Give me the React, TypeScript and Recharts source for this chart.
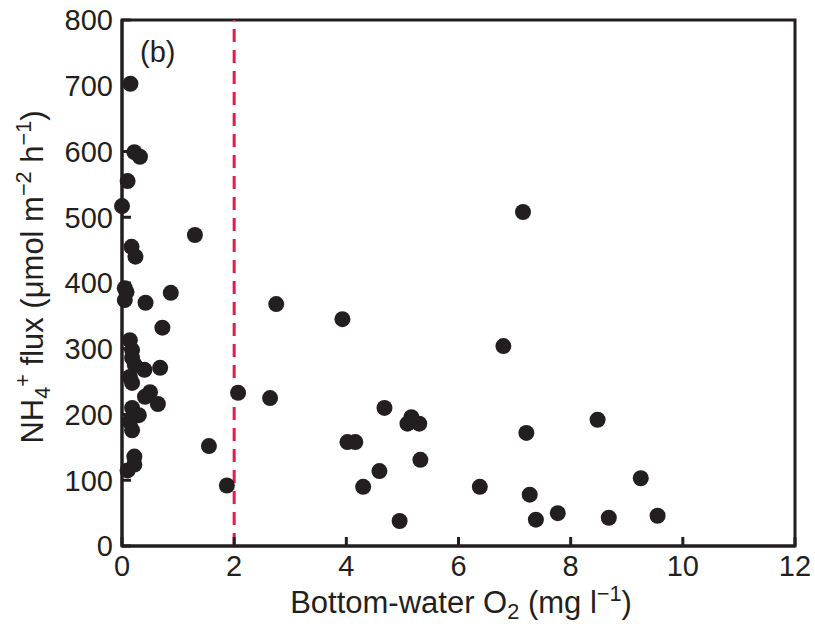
import React from 'react';
import {
    ScatterChart,
    Scatter,
    XAxis,
    YAxis,
    ReferenceLine,
    ReferenceArea,
} from 'recharts';

// bottom-water O2 (mg/l) and NH4+ flux (umol m-2 h-1)
const oxygen = [
    0.15, 0.22, 0.32, 0.1, 0.0, 1.3, 0.17, 0.24, 0.05, 0.08,
    0.05, 0.42, 0.87, 0.72, 2.75, 3.93, 7.15, 6.8, 0.14, 0.18,
    0.18, 0.23, 0.4, 0.68, 0.14, 0.18, 0.5, 0.41, 0.64, 2.07,
    2.64, 0.18, 0.3, 0.14, 0.18, 4.68, 5.16, 5.09, 5.3, 7.21,
    8.48, 4.02, 4.16, 1.55, 5.32, 4.59, 4.3, 6.38, 9.25, 7.27,
    1.87, 4.95, 7.38, 7.77, 8.68, 9.55, 0.22, 0.22, 0.1,
];
const flux = [
    703, 599, 592, 555, 517, 473, 455, 440, 392, 386,
    374, 370, 385, 332, 368, 345, 508, 304, 313, 298,
    286, 275, 268, 271, 257, 248, 234, 227, 216, 233,
    225, 210, 199, 189, 176, 210, 196, 186, 186, 172,
    192, 158, 158, 152, 131, 114, 90, 90, 103, 78,
    92, 38, 40, 50, 43, 46, 136, 124, 115,
];
const xTicks = [0, 2, 4, 6, 8, 10, 12];
const yTicks = [0, 100, 200, 300, 400, 500, 600, 700, 800];
const hypoxiaThreshold = 2;

const data = oxygen.map((o, i) => ({ o2: o, nh4: flux[i] }));

const INK = '#231f20';
const FONT = '"Liberation Sans", Arial, Helvetica, sans-serif';
const FS = 29;
const TITLE_FS = 31;
const MARGIN = 9;

const XTick = (props: any) => {
    const { x, y, payload } = props;
    const axisY = y - MARGIN;
    return (
        <g>
            <line x1={x} x2={x} y1={axisY} y2={axisY - 9} stroke={INK} strokeWidth={3} />
            <text x={x} y={y} dy="0.71em" textAnchor="middle" fill={INK} fontSize={FS} fontFamily={FONT}>
                {payload.value}
            </text>
        </g>
    );
};

const YTick = (props: any) => {
    const { x, y, payload } = props;
    const axisX = x + MARGIN;
    return (
        <g>
            <line x1={axisX} x2={axisX + 9} y1={y} y2={y} stroke={INK} strokeWidth={3} />
            <text x={x} y={y} dy="0.355em" textAnchor="end" fill={INK} fontSize={FS} fontFamily={FONT}>
                {payload.value}
            </text>
        </g>
    );
};

const Dot = (props: any) => <circle cx={props.cx} cy={props.cy} r={8} fill={INK} />;

export default function App() {
    return (
        <div style={{ width: 815, height: 627, background: '#fff' }}>
            <style>{'body{margin:0}'}</style>
            <ScatterChart width={815} height={627} margin={{ top: 20, right: 20, left: 0, bottom: 0 }}>
                <XAxis
                    type="number"
                    dataKey="o2"
                    domain={[0, 12]}
                    ticks={xTicks}
                    height={81}
                    axisLine={{ stroke: INK, strokeWidth: 3 }}
                    tickLine={false}
                    tickSize={0}
                    tickMargin={MARGIN}
                    tick={<XTick />}
                    interval={0}
                    label={{
                        content: () => (
                            <text x={461} y={613} textAnchor="middle" fill={INK} fontSize={TITLE_FS} fontFamily={FONT}>
                                Bottom-water O
                                <tspan fontSize={TITLE_FS * 0.7} dy={6}>2</tspan>
                                <tspan dy={-6}> (mg l</tspan>
                                <tspan fontSize={TITLE_FS * 0.7} dy={-12}>−1</tspan>
                                <tspan dy={12}>)</tspan>
                            </text>
                        ),
                    }}
                />
                <YAxis
                    type="number"
                    dataKey="nh4"
                    domain={[0, 800]}
                    ticks={yTicks}
                    width={122}
                    axisLine={{ stroke: INK, strokeWidth: 3 }}
                    tickLine={false}
                    tickSize={0}
                    tickMargin={MARGIN}
                    tick={<YTick />}
                    interval={0}
                    label={{
                        content: () => (
                            <text
                                x={43}
                                y={277}
                                transform="rotate(-90, 43, 277)"
                                textAnchor="middle"
                                fill={INK}
                                fontSize={TITLE_FS}
                                fontFamily={FONT}
                            >
                                NH
                                <tspan fontSize={TITLE_FS * 0.7} dy={7}>4</tspan>
                                <tspan fontSize={TITLE_FS * 0.7} dy={-20}>+</tspan>
                                <tspan dy={13}> flux (μmol m</tspan>
                                <tspan fontSize={TITLE_FS * 0.7} dy={-12}>−2</tspan>
                                <tspan dy={12}> h</tspan>
                                <tspan fontSize={TITLE_FS * 0.7} dy={-12}>−1</tspan>
                                <tspan dy={12}>)</tspan>
                            </text>
                        ),
                    }}
                />
                <ReferenceArea
                    x1={0}
                    x2={12}
                    y1={0}
                    y2={800}
                    fill="none"
                    stroke={INK}
                    strokeWidth={3}
                    label={{
                        content: (p: any) => (
                            <text
                                x={p.viewBox.x + 18}
                                y={p.viewBox.y + 42}
                                fill={INK}
                                fontSize={FS}
                                fontFamily={FONT}
                            >
                                (b)
                            </text>
                        ),
                    }}
                />
                <ReferenceLine
                    x={hypoxiaThreshold}
                    stroke="#e8194f"
                    strokeWidth={3}
                    strokeDasharray="13 8"
                />
                <Scatter data={data} fill={INK} shape={<Dot />} isAnimationActive={false} />
            </ScatterChart>
        </div>
    );
}
